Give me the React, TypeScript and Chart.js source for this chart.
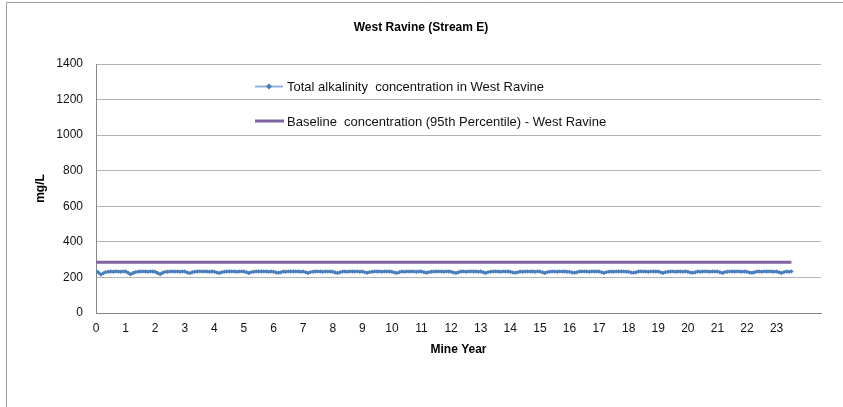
import React, { useEffect, useRef } from "react";
import { Chart, registerables } from "chart.js";

Chart.register(...registerables);

const chartTitle = "West Ravine (Stream E)";
const xTitle = "Mine Year";
const yTitle = "mg/L";
const seriesLabel = "Total alkalinity  concentration in West Ravine";
const baselineLabel = "Baseline  concentration (95th Percentile) - West Ravine";

// Monthly total alkalinity (mg/L), one row per mine year
const alkalinityByYear: number[][] = [
  [236, 228, 216, 224, 230, 232, 233, 232, 234, 233, 232, 234],
  [233, 226, 217, 225, 230, 232, 233, 234, 233, 232, 234, 233],
  [232, 225, 218, 226, 231, 232, 233, 234, 233, 234, 232, 233],
  [233, 228, 224, 229, 232, 233, 234, 233, 234, 233, 232, 233],
  [232, 228, 225, 229, 232, 233, 233, 234, 233, 232, 233, 234],
  [233, 229, 225, 230, 232, 234, 233, 233, 234, 233, 232, 233],
  [232, 228, 226, 229, 233, 232, 234, 233, 233, 234, 233, 232],
  [233, 229, 225, 230, 232, 233, 234, 233, 232, 234, 233, 233],
  [232, 228, 225, 229, 233, 233, 232, 234, 233, 233, 234, 232],
  [233, 229, 226, 230, 232, 234, 233, 233, 232, 234, 233, 233],
  [232, 228, 225, 229, 233, 232, 234, 233, 234, 233, 232, 233],
  [233, 229, 226, 230, 232, 233, 233, 234, 233, 232, 234, 233],
  [232, 228, 225, 229, 233, 234, 232, 233, 234, 233, 233, 232],
  [233, 229, 225, 230, 232, 233, 234, 233, 232, 234, 233, 233],
  [232, 228, 226, 229, 233, 232, 233, 234, 233, 233, 232, 234],
  [233, 229, 225, 230, 232, 234, 233, 232, 234, 233, 233, 232],
  [232, 228, 226, 229, 233, 233, 234, 233, 232, 234, 233, 233],
  [233, 229, 225, 230, 232, 233, 232, 234, 233, 233, 234, 232],
  [232, 228, 226, 229, 233, 234, 233, 233, 232, 234, 233, 233],
  [233, 229, 225, 230, 232, 233, 234, 232, 233, 233, 232, 234],
  [232, 228, 226, 229, 233, 232, 233, 234, 233, 232, 234, 233],
  [233, 229, 225, 230, 232, 234, 233, 233, 234, 233, 232, 233],
  [232, 228, 226, 229, 233, 233, 232, 234, 233, 234, 233, 232],
  [233, 229, 225, 230, 233, 232, 234],
];

// Baseline concentration (95th percentile), mg/L
const baselineYears = [0, 23.5];
const baselineValues = [285, 285];

const yTicksMax = 1400;
const yTickStep = 200;
const xAxisMax = 24.5;
const xTickLabels = Array.from({ length: 24 }, (_, i) => String(i));

const BLUE = "#4A7EBB";
const PURPLE = "#7F62A2";
const FONT = "'Liberation Sans', Arial, sans-serif";

export default function App() {
  const ref = useRef<HTMLCanvasElement | null>(null);

  useEffect(() => {
    if (!ref.current) return;
    const points: { x: number; y: number }[] = [];
    alkalinityByYear.forEach((row, yi) =>
      row.forEach((v, mi) => points.push({ x: yi + mi / 12, y: v }))
    );
    const baseline = baselineYears.map((x, i) => ({ x, y: baselineValues[i] }));

    const decor = {
      id: "decor",
      beforeDraw(chart: any) {
        const ctx = chart.ctx;
        ctx.save();
        ctx.strokeStyle = "#9c9c9c";
        ctx.lineWidth = 1;
        ctx.beginPath();
        ctx.moveTo(6.5, 407);
        ctx.lineTo(6.5, 2.5);
        ctx.lineTo(843, 2.5);
        ctx.stroke();
        ctx.restore();
      },
      afterDraw(chart: any) {
        const ctx = chart.ctx;
        const area = chart.chartArea;
        ctx.save();
        ctx.fillStyle = "#000";
        ctx.textBaseline = "middle";
        ctx.textAlign = "center";
        ctx.font = `bold 12px ${FONT}`;
        ctx.fillText(chartTitle, 421, 28);
        ctx.fillText(xTitle, (area.left + area.right) / 2, 350);
        ctx.save();
        ctx.translate(41, (area.top + area.bottom) / 2);
        ctx.rotate(-Math.PI / 2);
        ctx.fillText(yTitle, 0, 0);
        ctx.restore();

        // legend
        ctx.textAlign = "left";
        ctx.font = `13px ${FONT}`;
        ctx.strokeStyle = "#8EB0DA";
        ctx.lineWidth = 2;
        ctx.beginPath();
        ctx.moveTo(255, 86.5);
        ctx.lineTo(283, 86.5);
        ctx.stroke();
        ctx.fillStyle = BLUE;
        ctx.beginPath();
        ctx.moveTo(269, 83.5);
        ctx.lineTo(272, 86.5);
        ctx.lineTo(269, 89.5);
        ctx.lineTo(266, 86.5);
        ctx.closePath();
        ctx.fill();
        ctx.fillStyle = "#111";
        ctx.fillText(seriesLabel, 287, 87);

        ctx.strokeStyle = PURPLE;
        ctx.lineWidth = 3;
        ctx.beginPath();
        ctx.moveTo(255, 121);
        ctx.lineTo(284, 121);
        ctx.stroke();
        ctx.fillStyle = "#111";
        ctx.fillText(baselineLabel, 287, 122);
        ctx.restore();
      },
    };

    const chart = new Chart(ref.current, {
      type: "line",
      data: {
        datasets: [
          {
            label: seriesLabel,
            data: points,
            borderColor: BLUE,
            backgroundColor: BLUE,
            borderWidth: 2,
            pointStyle: "rectRot",
            pointRadius: 2.2,
            pointBorderWidth: 0,
            tension: 0,
          },
          {
            label: baselineLabel,
            data: baseline,
            borderColor: PURPLE,
            borderWidth: 3,
            pointRadius: 0,
          },
        ],
      },
      options: {
        animation: false,
        responsive: false,
        maintainAspectRatio: false,
        layout: { padding: { left: 6, right: 22, top: 64, bottom: 0 } },
        plugins: {
          legend: { display: false },
          title: { display: false },
          tooltip: { enabled: false },
        },
        scales: {
          x: {
            type: "linear",
            min: 0,
            max: xAxisMax,
            afterFit: (s: any) => {
              s.height = 94;
            },
            afterBuildTicks: (s: any) => {
              s.ticks = xTickLabels.map((_, i) => ({ value: i }));
            },
            ticks: {
              callback: (v: any) => xTickLabels[Number(v)] ?? "",
              color: "#111",
              font: { family: FONT, size: 12 },
              padding: 8,
              maxRotation: 0,
              autoSkip: false,
            },
            grid: { display: false, drawTicks: false },
            border: { display: true, color: "#868686", width: 1 },
          },
          y: {
            min: 0,
            max: yTicksMax,
            afterFit: (s: any) => {
              s.width = 90;
            },
            ticks: {
              stepSize: yTickStep,
              callback: (v: any) => String(v),
              color: "#111",
              font: { family: FONT, size: 12 },
              padding: 13,
            },
            grid: { color: "#b3b3b3", drawTicks: false },
            border: { display: true, color: "#868686", width: 1 },
          },
        },
      },
      plugins: [decor],
    });
    return () => chart.destroy();
  }, []);

  return (
    <div style={{ position: "absolute", left: 0, top: 0, width: 843, height: 407, background: "#fff" }}>
      <canvas ref={ref} width={843} height={407} style={{ display: "block" }} />
    </div>
  );
}
